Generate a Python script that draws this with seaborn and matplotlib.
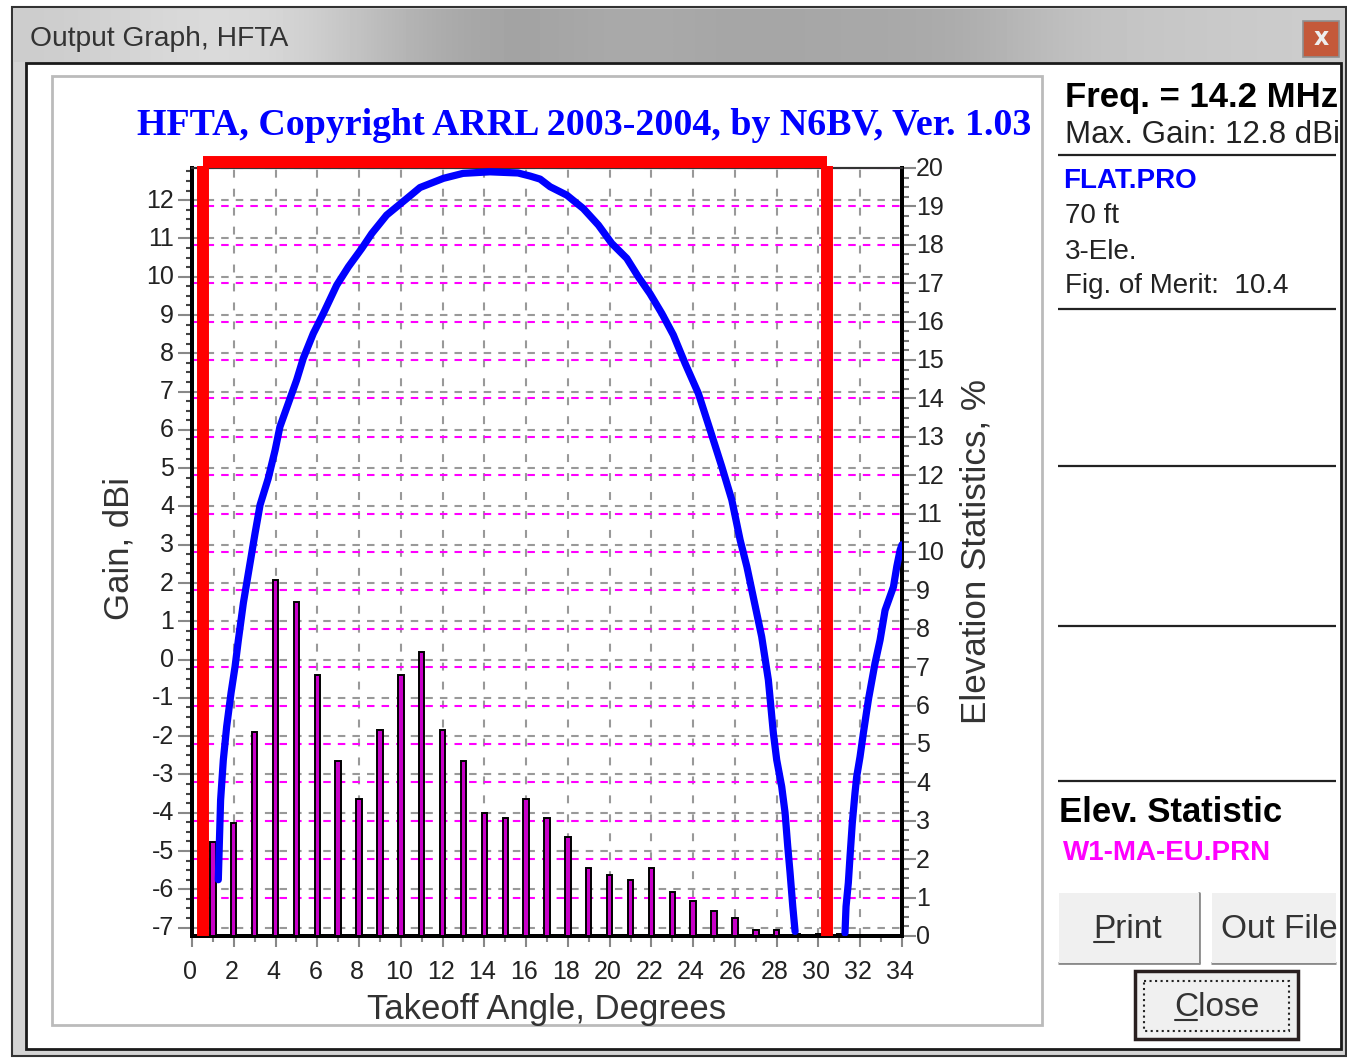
import numpy as np
import pandas as pd
import matplotlib.pyplot as plt
from matplotlib.patches import Rectangle
from matplotlib.transforms import ScaledTranslation
import seaborn as sns

# takeoff angle statistics, right axis, in %
angles = list(range(1, 32))
stats = [2.45, 2.94, 5.3, 9.27, 8.7, 6.8, 4.56, 3.57, 5.36, 6.8, 7.4, 5.36, 4.56, 3.2, 3.07, 3.57,
         3.07, 2.58, 1.77, 1.59, 1.46, 1.77, 1.15, 0.91, 0.65, 0.47, 0.16, 0.16, 0.05, 0.05, 0.05]

# gain curve, left axis, in dBi (main lobe then the start of the next one)
lobe1_deg = [1.26, 1.31, 1.37, 1.50, 1.66, 1.87, 2.06, 2.22, 2.46, 2.70, 3.02, 3.26, 3.65, 3.98, 4.21,
             4.61, 5.01, 5.33, 5.81, 6.29, 6.93, 7.49, 8.13, 8.61, 9.32, 10.28, 10.92, 12.04, 12.98,
             14.27, 15.61, 16.19, 16.67, 17.15, 17.95, 18.74, 19.46, 20.10, 20.82, 21.37, 21.93,
             22.50, 23.05, 23.61, 24.25, 24.81, 25.37, 25.85, 26.25, 26.57, 27.28, 27.60, 27.84,
             28.0, 28.24, 28.40, 28.53, 28.64, 28.77, 28.88]
lobe1_gain = [-5.75, -4.79, -3.67, -2.62, -1.75, -0.87, -0.19, 0.51, 1.48, 2.26, 3.30, 4.04, 4.73, 5.47,
              6.08, 6.69, 7.30, 7.87, 8.52, 9.04, 9.78, 10.26, 10.74, 11.13, 11.61, 12.04, 12.33, 12.57,
              12.70, 12.74, 12.71, 12.63, 12.55, 12.35, 12.13, 11.78, 11.35, 10.87, 10.48, 10.0, 9.56,
              9.04, 8.48, 7.74, 6.95, 6.0, 5.04, 4.17, 3.12, 2.43, 0.60, -0.53, -1.92, -2.62, -3.32,
              -4.0, -4.89, -5.57, -6.45, -7.10]
lobe2_deg = [31.27, 31.32, 31.43, 31.51, 31.62, 31.75, 31.83, 31.99, 32.15, 32.39, 32.71, 32.95, 33.19,
             33.59, 33.75, 33.91, 34.0]
lobe2_gain = [-7.14, -6.45, -5.83, -5.15, -4.27, -3.48, -3.06, -2.54, -1.92, -1.05, -0.09, 0.51, 1.29,
              1.90, 2.43, 2.86, 3.0]

# the red marker box drawn over the plot
box_left = 0.53
box_right = 30.4
box_top = 12.89

x_ticks = list(range(0, 35, 2))
gain_ticks = list(range(-7, 13))
gain_labels = [str(v) for v in gain_ticks]
stat_ticks = list(range(0, 21))

W, H = 1347, 1060
SANS = "Liberation Sans"

sns.set_theme(style="white")
plt.rcParams["font.family"] = SANS

fig = plt.figure(figsize=(W / 100, H / 100), dpi=100, facecolor="white")


def place(left, top, right, bottom):
    return [left / W, 1 - bottom / H, (right - left) / W, (bottom - top) / H]


# window chrome goes in a pixel sized axes at the back
bg = fig.add_axes([0, 0, 1, 1], zorder=-1)
bg.set_xlim(0, W)
bg.set_ylim(H, 0)
bg.axis("off")


def box(x0, y0, x1, y1, fc="none", ec="none", lw=0, **kw):
    bg.add_patch(Rectangle((x0, y0), x1 - x0, y1 - y0, facecolor=fc, edgecolor=ec, linewidth=lw, **kw))


def rule(x0, x1, y, color="#222222", lw=1.5):
    bg.plot([x0, x1], [y, y], color=color, lw=lw, solid_capstyle="butt")


box(12, 7, 1346, 1056, fc="#d4d4d4", ec="#333333", lw=1.5)
title_shades = np.array([[0.80, 0.86, 0.85, 0.70, 0.62, 0.68, 0.64, 0.66, 0.66, 0.76, 0.78, 0.80]])
bg.imshow(title_shades, cmap="gray", vmin=0, vmax=1, extent=(14, 1345, 62, 9), aspect="auto",
          interpolation="bicubic", zorder=1)
bg.set_xlim(0, W)
bg.set_ylim(H, 0)
box(26, 63, 1341, 1049, fc="white", ec="#1a1a1a", lw=2, zorder=2)
box(52, 76, 1042, 1025, fc="white", ec="#bbbbbb", lw=2, zorder=2)

bg.text(30, 39, "Output Graph, HFTA", fontsize=20.3, color="#333333", va="center", zorder=3)
box(1303, 21, 1339, 57, fc="#c4593a", ec="#8f8f8f", lw=1.2, zorder=3)
bg.text(1321, 38, "x", fontsize=17, fontweight="bold", color="#eeeeee", ha="center", va="center",
        family="DejaVu Sans", zorder=4)

# right side panel
for y in [155, 309, 466, 626, 781]:
    rule(1058, 1336, y, lw=1.6)
    bg.lines[-1].set_zorder(3)

panel = [
    (1065, 98, "Freq. = 14.2 MHz", 25, "bold", "black"),
    (1065, 135, "Max. Gain: 12.8 dBi", 22.5, "normal", "#222222"),
    (1063, 181, "FLAT.PRO", 20, "bold", "#0000ff"),
    (1065, 216, "70 ft", 20, "normal", "#222222"),
    (1065, 252, "3-Ele.", 20, "normal", "#222222"),
    (1065, 286, "Fig. of Merit:  10.4", 20, "normal", "#222222"),
    (1059, 813, "Elev. Statistic", 25, "bold", "black"),
    (1063, 853, "W1-MA-EU.PRN", 20, "bold", "#ff00ff"),
]
for x, y, s, size, weight, color in panel:
    t = bg.text(x, y, s, fontsize=size, fontweight=weight, color=color, va="center", zorder=4)
    t.set_clip_path(Rectangle((0, 0), 1337, H, transform=bg.transData))

# buttons
box(1059, 893, 1199, 963, fc="#f0f0f0", zorder=3)
rule(1058, 1200, 963, color="#8a8a8a", lw=2)
bg.plot([1199, 1199], [893, 963], color="#8a8a8a", lw=2)
box(1212, 893, 1336, 963, fc="#f0f0f0", zorder=3)
rule(1211, 1336, 963, color="#8a8a8a", lw=2)
box(1135, 971, 1298, 1039, fc="#f0f0f0", ec="#2a2020", lw=2.5, zorder=3)
box(1144, 981, 1289, 1031, ec="#222222", lw=1.5, ls=":", zorder=4)
for x, y, s in [(1128, 929, "Print"), (1279, 929, "Out File"), (1217, 1008, "Close")]:
    t = bg.text(x, y, s, fontsize=24, color="#333333", ha="center", va="center", zorder=5)
    t.set_clip_path(Rectangle((0, 0), 1336, H, transform=bg.transData))
bg.plot([1094, 1114], [942, 942], color="#333333", lw=1.5, zorder=5)
bg.plot([1175, 1197], [1020, 1020], color="#333333", lw=1.5, zorder=5)

# plot, three layers: gray grid, bars and magenta grid, then curve and red box
pos = place(192, 168, 902, 936)
ax = fig.add_axes(pos, zorder=1, facecolor="white")
ax2 = ax.twinx()
ax2.set_zorder(2)
ax2.patch.set_visible(False)
top = fig.add_axes(pos, zorder=3, sharex=ax, frameon=False)

df = pd.DataFrame({"angle": angles, "stat": stats})
sns.barplot(data=df, x="angle", y="stat", native_scale=True, width=0.26, color="#c800c8", saturation=1,
            edgecolor="black", linewidth=1.4, ax=ax2, zorder=3)
sns.lineplot(x=lobe1_deg, y=lobe1_gain, color="#0000ff", lw=5.2, ax=top, sort=False, errorbar=None,
             estimator=None)
sns.lineplot(x=lobe2_deg, y=lobe2_gain, color="#0000ff", lw=5.2, ax=top, sort=False, errorbar=None,
             estimator=None)

ax.set_xlim(0, 34)
ax.set_ylim(-7.22, 12.84)
top.set_ylim(-7.22, 12.84)
ax2.set_ylim(0, 20)

ax.set_xticks(x_ticks)
ax.set_xticklabels([str(v) for v in x_ticks])
ax.set_xticks(range(0, 35), minor=True)
ax.set_yticks(gain_ticks)
ax.set_yticklabels(gain_labels)
ax.set_yticks(np.arange(-7, 13, 0.25), minor=True)
ax.grid(True, axis="y", which="major", color="#999999", lw=1.5, ls=(0, (3.6, 3.4)))
ax.grid(True, axis="x", which="major", color="#999999", lw=1.5, ls=(0, (3.8, 5.3)))
ax.tick_params(axis="x", which="major", length=8, width=1.5, color="#888888", labelsize=18, pad=9,
               bottom=True, labelcolor="#222222")
ax.tick_params(axis="x", which="minor", length=4, width=1.5, color="#888888", bottom=True)
ax.tick_params(axis="y", which="major", length=10, width=1.5, color="#888888", labelsize=18, pad=3,
               left=True, labelcolor="#222222")
ax.tick_params(axis="y", which="minor", length=4, width=1.5, color="#444444", left=True)

ax2.set_axisbelow(True)
ax2.set_xlabel("")
ax2.set_yticks(stat_ticks)
ax2.set_yticklabels([str(v) for v in stat_ticks])
ax2.set_yticks(np.arange(0, 20.01, 0.25), minor=True)
ax2.grid(True, axis="y", which="major", color="#ff00ff", lw=1.5, ls=(0, (3.6, 3.4)))
ax2.grid(False, axis="x")
ax2.tick_params(axis="y", which="major", length=10, width=1.5, color="#888888", labelsize=18, pad=0,
                right=True, labelcolor="#222222")
ax2.tick_params(axis="y", which="minor", length=5, width=1.5, color="#777777", right=True)
ax2.tick_params(axis="x", which="both", bottom=False, labelbottom=False)

# labels in the original sit a couple of pixels off the ticks
up_left = ScaledTranslation(0, 2 / 100, fig.dpi_scale_trans)
up_right = ScaledTranslation(0, 1 / 100, fig.dpi_scale_trans)
back = ScaledTranslation(-2 / 100, 0, fig.dpi_scale_trans)
for label in ax.get_yticklabels():
    label.set_transform(label.get_transform() + up_left)
for label in ax2.get_yticklabels():
    label.set_transform(label.get_transform() + up_right)
for label in ax.get_xticklabels():
    label.set_transform(label.get_transform() + back)

for a in (ax, ax2):
    a.spines["left"].set(linewidth=2.8, color="black")
    a.spines["bottom"].set(linewidth=2.8, color="black")
    a.spines["right"].set(linewidth=2.8, color="black")
    a.spines["top"].set(linewidth=1.5, color="#333333")

ax.set_xlabel("Takeoff Angle, Degrees", fontsize=25, color="#333333")
ax.xaxis.set_label_coords(0.50, -0.074)
ax.set_ylabel("Gain, dBi", fontsize=25, color="#333333")
ax.yaxis.set_label_coords(-0.079, 0.504)
ax2.set_ylabel("Elevation Statistics, %", fontsize=25.2, color="#333333")
ax2.yaxis.set_label_coords(1.0805, 0.501)
ax.set_title("HFTA, Copyright ARRL 2003-2004, by N6BV, Ver. 1.03", family="Liberation Serif", fontweight="bold",
             fontsize=27.3, color="#0000ff", x=0.552, pad=24)

# red box
top.plot([box_left, box_left], [-7.22, box_top], color="#ff0000", lw=8.6, solid_capstyle="butt", clip_on=False)
top.plot([box_right, box_right], [-7.22, box_top], color="#ff0000", lw=8.6, solid_capstyle="butt", clip_on=False)
top.plot([box_left, box_right], [box_top + 0.1, box_top + 0.1], color="#ff0000", lw=8.6, solid_capstyle="butt",
         clip_on=False)
top.axis("off")
ax.set_xlim(0, 34)

fig.savefig("out.png", dpi=100)
